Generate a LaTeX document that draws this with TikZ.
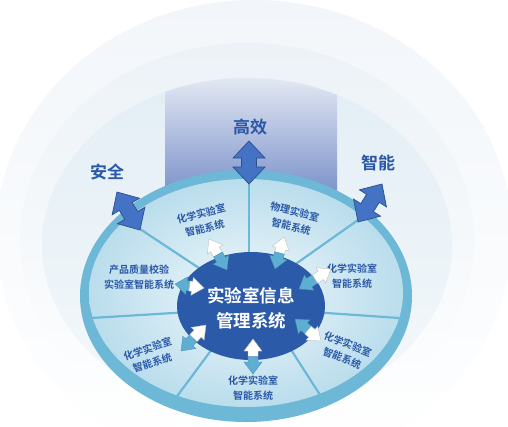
\documentclass[tikz,border=0pt]{standalone}
\usepackage{fontspec}
\newfontfamily\cjkb{Noto Sans CJK SC Bold}
\definecolor{ringc}{HTML}{6CB8D6}
\definecolor{labc}{HTML}{2A58A8}
\definecolor{bigar}{HTML}{4472C4}
\definecolor{bigard}{HTML}{2D4F8E}
\definecolor{smblue}{HTML}{5EAED4}
\definecolor{core}{HTML}{2B5BA8}
\definecolor{haloA}{HTML}{F2F6FA}
\definecolor{haloB}{HTML}{ECF2F7}
\definecolor{haloC}{HTML}{E3EEF5}
\definecolor{inA}{HTML}{F0F8FB}
\definecolor{inB}{HTML}{BADDEC}
\definecolor{colTop}{HTML}{E3E8F3}
\definecolor{colBot}{HTML}{7A91CA}

% double arrow with two halves: x1 y1 x2 y2 styleA styleB headhalf shafthalf headlen
\newcommand\dblArrow[9]{%
  \pgfmathsetmacro\dAang{atan2(#2-#4,#3-#1)}%
  \pgfmathsetmacro\dAlen{veclen(#3-#1,#4-#2)}%
  \pgfmathsetmacro\dAhalf{\dAlen/2}%
  \pgfmathsetmacro\dAend{\dAlen-#9}%
  \begin{scope}[shift={(#1,#2)},rotate=\dAang]
    \filldraw[#5] (0,0) -- (#9,#7) -- (#9,#8) -- (\dAhalf,#8) -- (\dAhalf,-#8) -- (#9,-#8) -- (#9,-#7) -- cycle;
    \filldraw[#6] (\dAlen,0) -- (\dAend,#7) -- (\dAend,#8) -- (\dAhalf,#8) -- (\dAhalf,-#8) -- (\dAend,-#8) -- (\dAend,-#7) -- cycle;
  \end{scope}}
% full double arrow, one colour: x1 y1 x2 y2 headhalf shafthalf headlen
\newcommand\bigArrow[7]{%
  \pgfmathsetmacro\dAang{atan2(#2-#4,#3-#1)}%
  \pgfmathsetmacro\dAlen{veclen(#3-#1,#4-#2)}%
  \pgfmathsetmacro\dAend{\dAlen-#7}%
  \begin{scope}[shift={(#1,#2)},rotate=\dAang]
    \filldraw[fill=bigar,draw=bigard,line width=0.7,line join=miter] (0,0) -- (#7,#5) -- (#7,#6) -- (\dAend,#6) -- (\dAend,#5) -- (\dAlen,0) -- (\dAend,-#5) -- (\dAend,-#6) -- (#7,-#6) -- (#7,-#5) -- cycle;
  \end{scope}}

\tikzset{
  lab/.style={text=labc, align=center, inner sep=0pt, font=\cjkb\fontsize{10}{15}\selectfont},
  outerlab/.style={text=labc, inner sep=0pt, font=\cjkb\fontsize{17}{20}\selectfont},
  coretext/.style={text=white, align=center, inner sep=0pt, font=\cjkb\fontsize{17.5}{25}\selectfont},
  spoke/.style={draw=ringc, line width=2.2},
  whitehalf/.style={fill=white, draw=black!25, line width=0.4, line join=miter},
  bluehalf/.style={fill=smblue, draw=smblue!80!black, line width=0.3, line join=miter},
}

\begin{document}
\begin{tikzpicture}[x=1pt,y=-1pt]
  \fill[white] (0,0) rectangle (508,426);
  \useasboundingbox (0,0) rectangle (508,426);
  \begin{scope}
    \clip (0,0) rectangle (508,426);
    % halos
    \shade[top color=haloA, middle color=haloA, bottom color=white] (254,235) ellipse [x radius=258, y radius=235];
    \shade[top color=haloB, middle color=haloB, bottom color=white] (247,240) ellipse [x radius=227, y radius=197];
    \shade[top color=haloC, middle color=haloC, bottom color=white!60!haloC] (247,245) ellipse [x radius=205, y radius=167];
    % column
    \begin{scope}
      \clip (247,245) ellipse [x radius=205, y radius=167];
      \shade[top color=colTop, bottom color=colBot] (165,78) rectangle (337,195);
    \end{scope}
    % ring
    \fill[ringc] (246,296) ellipse [x radius=166, y radius=126];
    \shade[inner color=inA, outer color=inB] (246,293) ellipse [x radius=157, y radius=114];
    % spokes
    \coordinate (pT) at (249,183);  \coordinate (qT) at (249,262);
    \coordinate (pUL) at (137,227); \coordinate (qUL) at (205,272);
    \coordinate (pUR) at (358,220); \coordinate (qUR) at (290,268);
    \coordinate (pL) at (91,318);   \coordinate (qL) at (190,312);
    \coordinate (pR) at (399,318);  \coordinate (qR) at (312,312);
    \coordinate (pLL) at (175,399); \coordinate (qLL) at (215,345);
    \coordinate (pLR) at (322,398); \coordinate (qLR) at (288,345);
    \foreach \s in {T,UL,UR,L,R,LL,LR} \draw[spoke] (q\s) -- (p\s);
    % core
    \fill[core] (251,306) ellipse [x radius=74, y radius=54];
    \node[coretext] (core) at (251,308) {实验室信息\\管理系统};
    % sector labels
    \node[lab, rotate=14]  (s1) at (203,221) {化学实验室\\智能系统};
    \node[lab, rotate=-14] (s2) at (293,219) {物理实验室\\智能系统};
    \node[lab]             (s3) at (352,276) {化学实验室\\智能系统};
    \node[lab, rotate=-22] (s4) at (345,351) {化学实验室\\智能系统};
    \node[lab]             (s5) at (253,388) {化学实验室\\智能系统};
    \node[lab, rotate=18]  (s6) at (150,356) {化学实验室\\智能系统};
    \node[lab]             (s7) at (139,277) {产品质量校验\\实验室智能系统};
    % small arrows
    \dblArrow{209}{239}{227}{270}{whitehalf}{bluehalf}{9}{5}{12}
    \dblArrow{284}{237}{275}{269}{whitehalf}{bluehalf}{9}{5}{12}
    \dblArrow{299}{289}{331}{269}{bluehalf}{whitehalf}{9}{5}{12}
    \dblArrow{295}{319}{321}{341}{bluehalf}{whitehalf}{9}{5}{12}
    \dblArrow{253}{339}{253}{374}{whitehalf}{bluehalf}{9}{5}{12}
    \dblArrow{181}{351}{206}{325}{bluehalf}{whitehalf}{9}{5}{12}
    \dblArrow{175}{284}{204}{288}{bluehalf}{whitehalf}{9}{5}{12}
    % big arrows
    \bigArrow{249}{141}{249}{184}{16}{7.5}{17}
    \bigArrow{117}{192}{140}{230}{16}{7.5}{17}
    \bigArrow{382}{184}{358}{222}{16}{7.5}{17}
    % outer labels
    \node[outerlab] (anquan) at (107,172) {安全};
    \node[outerlab] (gaoxiao) at (250,127) {高效};
    \node[outerlab] (zhineng) at (378,163) {智能};
  \end{scope}
\end{tikzpicture}
\end{document}
